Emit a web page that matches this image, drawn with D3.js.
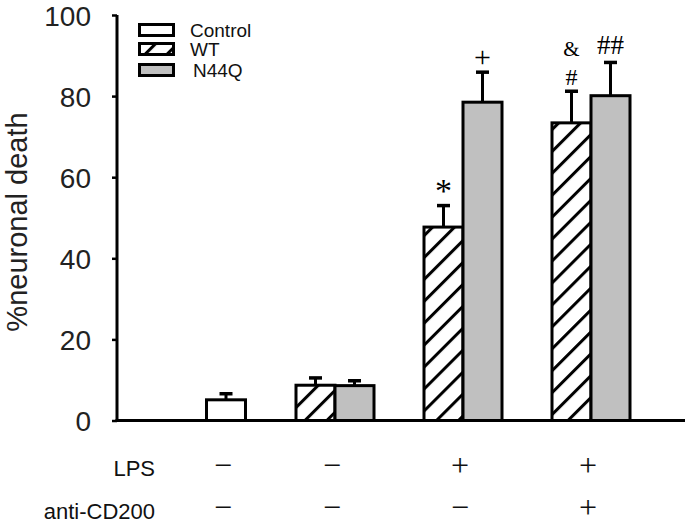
<!DOCTYPE html>
<html><head><meta charset="utf-8">
<script src="https://cdn.jsdelivr.net/npm/d3@7"></script>
<style>html,body{margin:0;padding:0;background:#fff;}svg{display:block;}</style>
</head><body>
<svg id="chart" width="685" height="525"></svg>
<script>
// ---- data ----
const groups = ["G1", "G2", "G3", "G4"];
const lpsLabels = ["\u2212", "\u2212", "+", "+"];
const antiLabels = ["\u2212", "\u2212", "\u2212", "+"];
const controlVals = [5.1, null, null, null];
const controlErr = [1.5, null, null, null];
const wtVals = [null, 8.7, 47.7, 73.4];
const wtErr = [null, 1.8, 5.3, 7.8];
const n44qVals = [null, 8.6, 78.5, 80.1];
const n44qErr = [null, 1.2, 7.4, 8.2];
const wtMarks = [null, null, "*", "#"];
const wtMarks2 = [null, null, null, "&"];
const n44qMarks = [null, null, "+", "##"];
const yTicks = [0, 20, 40, 60, 80, 100];
const seriesNames = ["Control", "WT", "N44Q"];

// ---- layout ----
const svg = d3.select("#chart");
const y = d3.scaleLinear().domain([0, 100]).range([420.5, 15]);
const xg = d3.scaleOrdinal().domain(groups).range([226, 335, 463, 591]);
const barW = 39;
const axisX = 117;

const defs = svg.append("defs");
const pat = defs.append("pattern").attr("id", "hatch")
  .attr("patternUnits", "userSpaceOnUse").attr("width", 15.5).attr("height", 15.5)
  .attr("patternTransform", "rotate(45)");
pat.append("rect").attr("width", 15.5).attr("height", 15.5).attr("fill", "#fff");
pat.append("line").attr("x1", 1.5).attr("y1", 0).attr("x2", 1.5).attr("y2", 15.5)
  .attr("stroke", "#000").attr("stroke-width", 3);

const fills = {Control: "#fff", WT: "url(#hatch)", N44Q: "#c0c0c0"};

// bars
const bars = [];
groups.forEach((g, i) => {
  if (controlVals[i] != null) bars.push({g, s: "Control", v: controlVals[i], e: controlErr[i], off: -barW / 2, m: []});
  if (wtVals[i] != null) bars.push({g, s: "WT", v: wtVals[i], e: wtErr[i], off: -barW, m: [wtMarks[i], wtMarks2[i]]});
  if (n44qVals[i] != null) bars.push({g, s: "N44Q", v: n44qVals[i], e: n44qErr[i], off: 0, m: [n44qMarks[i]]});
});

// error bars (behind)
const eb = svg.append("g");
bars.forEach(b => {
  const cx = xg(b.g) + b.off + barW / 2;
  eb.append("line").attr("x1", cx).attr("x2", cx).attr("y1", y(b.v)).attr("y2", y(b.v + b.e))
    .attr("stroke", "#000").attr("stroke-width", 3);
  eb.append("line").attr("x1", cx - 6.5).attr("x2", cx + 6.5).attr("y1", y(b.v + b.e)).attr("y2", y(b.v + b.e))
    .attr("stroke", "#000").attr("stroke-width", 3.5);
});

svg.append("g").selectAll("rect").data(bars).join("rect")
  .attr("x", d => xg(d.g) + d.off)
  .attr("y", d => y(d.v))
  .attr("width", barW)
  .attr("height", d => y(0) - y(d.v))
  .attr("fill", d => fills[d.s])
  .attr("stroke", "#000").attr("stroke-width", 3);

// annotations
const ann = svg.append("g").attr("font-family", "'Liberation Serif', serif").attr("text-anchor", "middle").attr("fill", "#000");
bars.forEach(b => {
  const cx = xg(b.g) + b.off + barW / 2;
  const top = y(b.v + b.e);
  const m = b.m[0];
  if (m) {
    let yy = top - 8, fs = 27;
    if (m === "#") { yy = top - 6; fs = 24; }
    if (m === "*") { yy = top - 4; fs = 34; }
    if (m === "+") { yy = top - 5; fs = 30; }
    ann.append("text").attr("x", cx).attr("y", yy).attr("font-size", fs).text(m);
  }
  if (b.m[1]) {
    ann.append("text").attr("x", cx).attr("y", top - 35).attr("font-size", 21).text(b.m[1]);
  }
});

// axes
const yAxis = d3.axisLeft(y).tickValues(yTicks).tickSize(5).tickPadding(21);
const ya = svg.append("g").attr("transform", `translate(${axisX},0)`).call(yAxis);
ya.select(".domain").remove();
ya.selectAll(".tick line").attr("stroke", "#000").attr("stroke-width", 2.5);
ya.selectAll(".tick text").attr("font-family", "'Liberation Sans', Arial, sans-serif")
  .attr("font-size", 28).attr("fill", "#222").attr("dy", "0.36em");
svg.append("line").attr("x1", axisX).attr("x2", axisX).attr("y1", y(100)).attr("y2", y(0))
  .attr("stroke", "#000").attr("stroke-width", 3);
svg.append("line").attr("x1", axisX - 1.5).attr("x2", 685).attr("y1", y(0)).attr("y2", y(0))
  .attr("stroke", "#000").attr("stroke-width", 3);

// y label
svg.append("text").attr("transform", `translate(27,222) rotate(-90)`)
  .attr("text-anchor", "middle").attr("font-family", "'Liberation Sans', Arial, sans-serif")
  .attr("font-size", 29).attr("fill", "#222").text("%neuronal death");

// row labels
const rowFont = "'Liberation Sans', Arial, sans-serif";
svg.append("text").attr("x", 155).attr("y", 476).attr("text-anchor", "end")
  .attr("font-family", rowFont).attr("font-size", 22).attr("fill", "#111").text("LPS");
svg.append("text").attr("x", 155).attr("y", 519).attr("text-anchor", "end")
  .attr("font-family", rowFont).attr("font-size", 22).attr("fill", "#111").text("anti-CD200");

const signs = svg.append("g").attr("font-family", "'Liberation Serif', serif").attr("font-size", 32)
  .attr("text-anchor", "middle").attr("fill", "#111");
groups.forEach((g, i) => {
  signs.append("text").attr("x", xg(g) - 3).attr("y", 476).text(lpsLabels[i]);
  signs.append("text").attr("x", xg(g) - 3).attr("y", 518).text(antiLabels[i]);
});

// legend
const leg = svg.append("g");
const legY = [30, 49, 70];
seriesNames.forEach((s, i) => {
  leg.append("rect").attr("x", 139.5).attr("y", legY[i] - 5.5).attr("width", 34).attr("height", 11)
    .attr("fill", fills[s]).attr("stroke", "#000").attr("stroke-width", 3);
  leg.append("text").attr("x", s === "N44Q" ? 193 : 190).attr("y", legY[i]).attr("dy", "0.35em")
    .attr("font-family", rowFont).attr("font-size", 19).attr("fill", "#111").text(s);
});
</script>
</body></html>
